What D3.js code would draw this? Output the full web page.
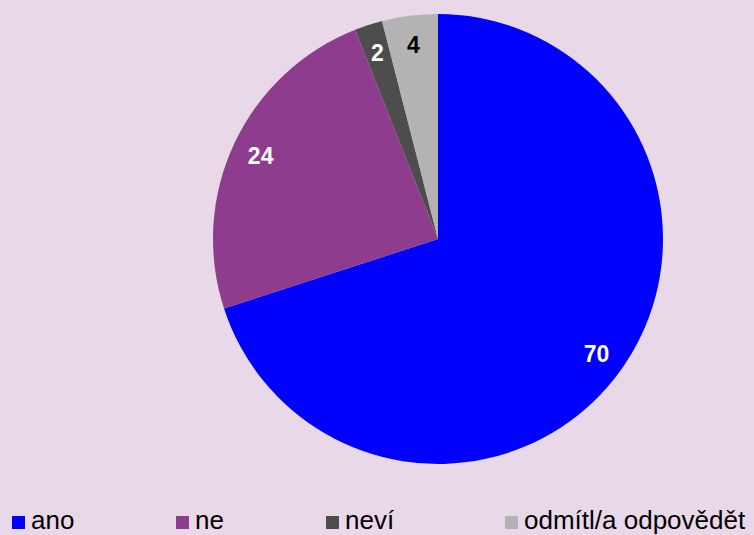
<!DOCTYPE html>
<html>
<head>
<meta charset="utf-8">
<script src="https://cdn.jsdelivr.net/npm/d3@7"></script>
<style>
  html, body { margin: 0; padding: 0; background: #e8d8e8; }
  svg { display: block; }
</style>
</head>
<body>
<svg id="chart" width="754" height="535"></svg>
<script>
// Survey answers (percent)
const categories = ["ano", "ne", "neví", "odmítl/a odpovědět"];
const values = [70, 24, 2, 4];
const colors = ["#0000ff", "#8e3c8e", "#4d4d4d", "#b3b3b3"];
const labelColors = ["#ffffff", "#ffffff", "#ffffff", "#000000"];

const width = 754, height = 535;
const cx = 438, cy = 239, radius = 225, labelRadius = 196;

const svg = d3.select("#chart");
svg.append("rect").attr("width", width).attr("height", height).attr("fill", "#e8d8e8");

const pie = d3.pie().sort(null).value(d => d)(values);
const arc = d3.arc().innerRadius(0).outerRadius(radius);
const labelArc = d3.arc().innerRadius(labelRadius).outerRadius(labelRadius);

const g = svg.append("g").attr("transform", `translate(${cx},${cy})`);

g.selectAll("path.slice")
  .data(pie)
  .join("path")
  .attr("class", "slice")
  .attr("d", arc)
  .attr("fill", (d, i) => colors[i]);

g.selectAll("text.value")
  .data(pie)
  .join("text")
  .attr("class", "value")
  .attr("transform", d => `translate(${labelArc.centroid(d)})`)
  .attr("text-anchor", "middle")
  .attr("dy", "0.36em")
  .attr("font-family", "Liberation Sans, Arial, sans-serif")
  .attr("font-weight", "bold")
  .attr("font-size", 23)
  .attr("fill", (d, i) => labelColors[i])
  .text(d => d.data);

// Legend along the bottom edge
const legendX = d3.scaleOrdinal().domain(categories).range([12, 176, 326, 505]);
const legend = svg.append("g").selectAll("g")
  .data(categories)
  .join("g")
  .attr("transform", d => `translate(${legendX(d)},0)`);

legend.append("rect")
  .attr("x", 0).attr("y", 516)
  .attr("width", 13).attr("height", 13)
  .attr("fill", (d, i) => colors[i]);

legend.append("text")
  .attr("x", 19).attr("y", 529)
  .attr("font-family", "Liberation Sans, Arial, sans-serif")
  .attr("font-size", 26)
  .attr("fill", "#000")
  .text(d => d);
</script>
</body>
</html>
